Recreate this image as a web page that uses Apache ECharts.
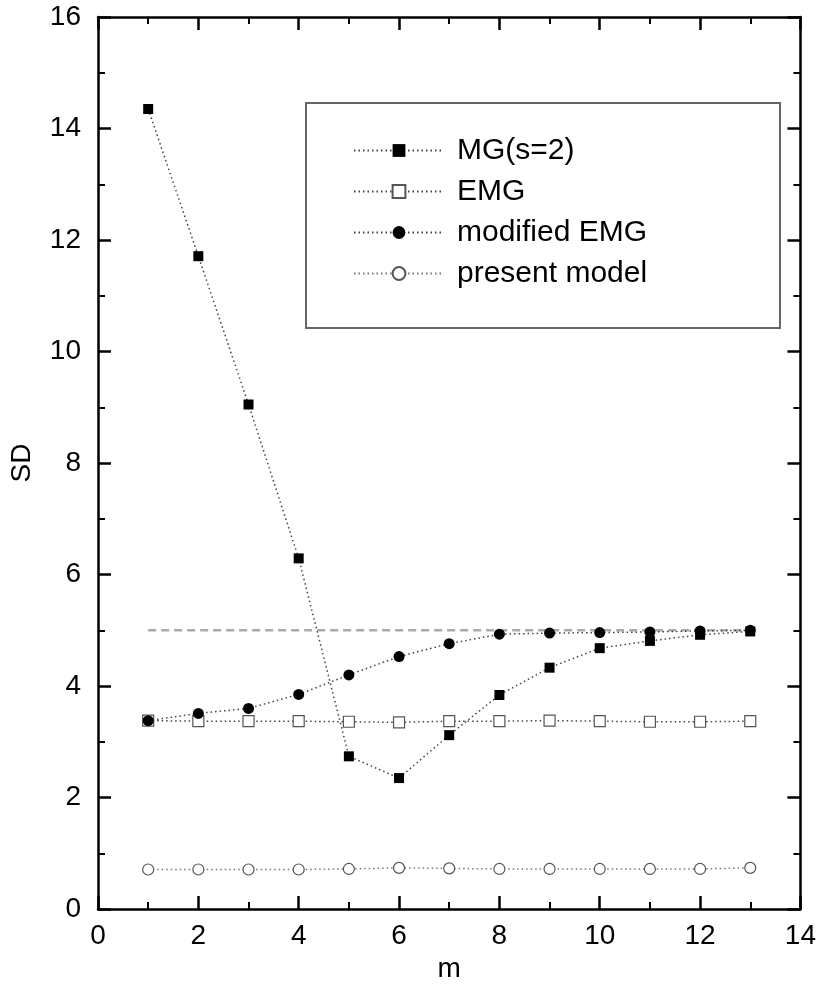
<!DOCTYPE html>
<html>
<head>
<meta charset="utf-8">
<script src="https://cdn.jsdelivr.net/npm/echarts@6/dist/echarts.min.js"></script>
<style>
  html, body { margin: 0; padding: 0; background: #fff; }
  #chart { width: 819px; height: 988px; }
</style>
</head>
<body>
<div id="chart"></div>
<script>
// values
const mValues = [1, 2, 3, 4, 5, 6, 7, 8, 9, 10, 11, 12, 13];
const mgS2 = [14.35, 11.71, 9.05, 6.29, 2.74, 2.35, 3.12, 3.84, 4.33, 4.68, 4.81, 4.92, 4.98];
const emg = [3.38, 3.37, 3.37, 3.37, 3.36, 3.35, 3.37, 3.37, 3.38, 3.37, 3.36, 3.36, 3.37];
const modifiedEmg = [3.38, 3.51, 3.60, 3.85, 4.20, 4.53, 4.76, 4.93, 4.95, 4.96, 4.97, 4.99, 5.00];
const presentModel = [0.71, 0.71, 0.71, 0.71, 0.72, 0.74, 0.73, 0.72, 0.72, 0.72, 0.72, 0.72, 0.74];
const refLevel = 5;
const refRange = [1, 13];
const seriesNames = ['MG(s=2)', 'EMG', 'modified EMG', 'present model'];

const font = '"Liberation Sans", Arial, Helvetica, sans-serif';

const pairs = (ys) => mValues.map((x, i) => [x, ys[i]]);

const dotted = { color: '#444', width: 1.5, type: [1.5, 3] };

const chart = echarts.init(document.getElementById('chart'));

const axisCommon = {
  axisLine: { show: true, onZero: false, lineStyle: { color: '#000', width: 2.5 } },
  axisTick: { show: true, inside: true, length: 13, lineStyle: { color: '#000', width: 2.5 } },
  minorTick: { show: true, splitNumber: 2, length: 7, lineStyle: { color: '#000', width: 2 } },
  splitLine: { show: false }
};

chart.setOption({
  backgroundColor: '#fff',
  animation: false,
  textStyle: { fontFamily: font },
  grid: { left: 96, right: 18, top: 17, bottom: 74 },
  xAxis: [
    Object.assign({
      type: 'value', min: 0, max: 14, interval: 2,
      name: 'm', nameLocation: 'middle', nameGap: 45,
      nameTextStyle: { fontSize: 28, color: '#000', fontFamily: font },
      axisLabel: { fontSize: 28, color: '#000', margin: 13, fontFamily: font }
    }, axisCommon),
    Object.assign({
      type: 'value', min: 0, max: 14, interval: 2, position: 'top',
      axisLabel: { show: false }
    }, axisCommon)
  ],
  yAxis: [
    Object.assign({
      type: 'value', min: 0, max: 16, interval: 2,
      name: 'SD', nameLocation: 'middle', nameGap: 62, nameRotate: 90,
      nameTextStyle: { fontSize: 28, color: '#000', fontFamily: font },
      axisLabel: { fontSize: 28, color: '#000', margin: 17, fontFamily: font }
    }, axisCommon),
    Object.assign({
      type: 'value', min: 0, max: 16, interval: 2, position: 'right',
      axisLabel: { show: false }
    }, axisCommon)
  ],
  legend: {
    data: seriesNames,
    orient: 'vertical',
    left: 348, top: 130,
    itemWidth: 90, itemHeight: 16, itemGap: 10,
    selectedMode: false,
    textStyle: { fontSize: 30, color: '#000', lineHeight: 31, padding: [0, 0, 0, 8], fontFamily: font }
  },
  graphic: [{
    type: 'rect',
    shape: { x: 306, y: 103, width: 474, height: 225 },
    style: { fill: 'none', stroke: '#666', lineWidth: 2 },
    z: 10
  }],
  series: [
    {
      name: 'ref', type: 'line', symbol: 'none', silent: true, z: 1,
      data: [[refRange[0], refLevel], [refRange[1], refLevel]],
      lineStyle: { color: '#aaa', width: 2.5, type: [8, 5] }
    },
    {
      name: seriesNames[0], type: 'line', data: pairs(mgS2), z: 4,
      symbol: 'rect', symbolSize: 10,
      itemStyle: { color: '#000' }, lineStyle: dotted
    },
    {
      name: seriesNames[1], type: 'line', data: pairs(emg), z: 3,
      symbol: 'rect', symbolSize: 11,
      itemStyle: { color: '#fff', borderColor: '#555', borderWidth: 1.2 }, lineStyle: dotted
    },
    {
      name: seriesNames[2], type: 'line', data: pairs(modifiedEmg), z: 5,
      symbol: 'circle', symbolSize: 11,
      itemStyle: { color: '#000' }, lineStyle: dotted
    },
    {
      name: seriesNames[3], type: 'line', data: pairs(presentModel), z: 3,
      symbol: 'circle', symbolSize: 11,
      itemStyle: { color: '#fff', borderColor: '#555', borderWidth: 1.2 },
      lineStyle: { color: '#777', width: 1.5, type: [1.5, 3] }
    }
  ]
});
</script>
</body>
</html>
